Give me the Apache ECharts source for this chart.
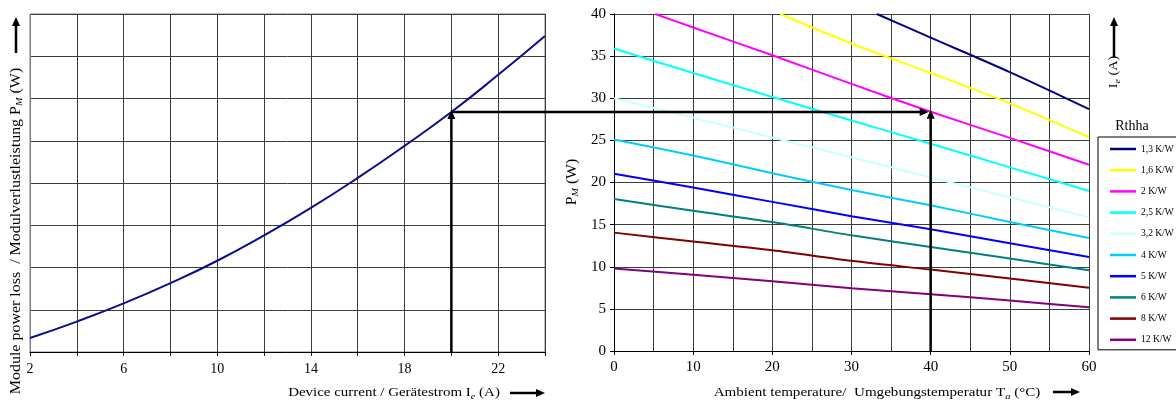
<!DOCTYPE html>
<html><head><meta charset="utf-8">
<script src="https://cdn.jsdelivr.net/npm/echarts@6/dist/echarts.min.js"></script>
<style>html,body{margin:0;padding:0;background:#fff}#c{width:1176px;height:406px}</style>
</head><body><div id="c"></div>
<script>
// ---- data ----
const currentA   = [2, 4, 6, 8, 10, 12, 14, 16, 18, 20, 22, 24];
const powerLossW = [1.66, 3.6, 5.75, 8.15, 10.8, 13.8, 17.05, 20.6, 24.4, 28.4, 32.8, 37.4];
const currentTickLabels = [2, 6, 10, 14, 18, 22];

const tempC = [0, 10, 20, 30, 40, 50, 60];
const rthLabels = ['1,3 K/W', '1,6 K/W', '2 K/W', '2,5 K/W', '3,2 K/W', '4 K/W', '5 K/W', '6 K/W', '8 K/W', '12 K/W'];
const t13 = [33.2, 40, 50, 60];             const p13 = [40, 37.2, 33.1, 28.7];
const t16 = [21, 30, 40, 50, 60];           const p16 = [40, 36.5, 33.0, 29.4, 25.4];
const t20 = [5.2, 10, 20, 30, 40, 50, 60];  const p20 = [40, 38.4, 35.1, 31.7, 28.4, 25.3, 22.1];
const p25  = [35.9, 33.0, 30.15, 27.35, 24.6, 21.8, 19.0];
const p32  = [30.0, 27.7, 25.35, 23.0, 20.6, 18.25, 15.87];
const p40  = [25.1, 23.2, 21.1, 19.1, 17.3, 15.3, 13.4];
const p50  = [21.05, 19.4, 17.7, 16.0, 14.45, 12.8, 11.16];
const p60  = [18.04, 16.65, 15.3, 13.73, 12.35, 10.97, 9.58];
const p80  = [14.05, 13.0, 11.95, 10.7, 9.66, 8.6, 7.5];
const p120 = [9.78, 9.05, 8.27, 7.45, 6.75, 5.98, 5.2];

// operating point example
const opCurrent = 20, opPower = 28.4, opTemp = 40;

// ---- chart ----
const FONT = '"Liberation Serif", "Times New Roman", serif';
const zip = (xs, ys) => xs.map((x, i) => [x, ys[i]]);
const rthData = [zip(t13, p13), zip(t16, p16), zip(t20, p20), zip(tempC, p25), zip(tempC, p32),
                 zip(tempC, p40), zip(tempC, p50), zip(tempC, p60), zip(tempC, p80), zip(tempC, p120)];
const rthColors = ['#000080', '#FFFF00', '#FF00FF', '#00FFFF', '#CCFFFF', '#00CCFF', '#0000FF', '#008080', '#800000', '#800080'];
const GRIDC = '#3c3c3c';

const chart = echarts.init(document.getElementById('c'));
const option = {
  animation: false,
  grid: [
    { left: 30, top: 14, width: 515, height: 338, show: true, borderColor: '#808080', borderWidth: 1 },
    { left: 614, top: 14, width: 475, height: 337 }
  ],
  xAxis: [
    { gridIndex: 0, type: 'value', min: 2, max: 24, interval: 2,
      axisLine: { lineStyle: { color: '#000', width: 1 } },
      axisTick: { show: true, length: 4, lineStyle: { color: '#000' } },
      axisLabel: { customValues: currentTickLabels, fontFamily: FONT, fontSize: 14, color: '#000', margin: 10 },
      splitLine: { show: true, lineStyle: { color: GRIDC, width: 1 } } },
    { gridIndex: 1, type: 'value', min: 0, max: 60, interval: 10,
      axisLine: { lineStyle: { color: '#000', width: 1 } },
      axisTick: { show: true, length: 4, lineStyle: { color: '#000' } },
      minorTick: { show: false, splitNumber: 2 },
      minorSplitLine: { show: true, lineStyle: { color: GRIDC, width: 1 } },
      axisLabel: { fontFamily: FONT, fontSize: 15, color: '#000', margin: 9 },
      splitLine: { show: true, lineStyle: { color: GRIDC, width: 1 } } }
  ],
  yAxis: [
    { gridIndex: 0, type: 'value', min: 0, max: 40, interval: 5,
      axisLine: { show: true, lineStyle: { color: '#808080' } },
      axisTick: { show: false }, axisLabel: { show: false },
      splitLine: { show: true, lineStyle: { color: GRIDC, width: 1 } } },
    { gridIndex: 1, type: 'value', min: 0, max: 40, interval: 5,
      axisLine: { show: true, lineStyle: { color: '#000' } },
      axisTick: { show: true, length: 4, lineStyle: { color: '#000' } },
      axisLabel: { fontFamily: FONT, fontSize: 15, color: '#000', margin: 8 },
      splitLine: { show: true, lineStyle: { color: GRIDC, width: 1 } } }
  ],
  legend: {
    data: rthLabels, orient: 'vertical', left: 1098, top: 137,
    padding: [7, 40, 5, 12], itemGap: 11.2, itemWidth: 26, itemHeight: 2.5, icon: 'rect',
    borderColor: '#000', borderWidth: 1, backgroundColor: '#fff',
    textStyle: { fontFamily: FONT, fontSize: 9.5, color: '#000', lineHeight: 10 }
  },
  series: [
    { type: 'line', name: 'PM', xAxisIndex: 0, yAxisIndex: 0, data: zip(currentA, powerLossW),
      smooth: true, symbol: 'none', lineStyle: { color: '#0c0c8c', width: 2 }, z: 3 }
  ].concat(rthLabels.map((name, i) => ({
      type: 'line', name, xAxisIndex: 1, yAxisIndex: 1, data: rthData[i],
      smooth: 0.3, symbol: 'none', color: rthColors[i], lineStyle: { color: rthColors[i], width: 2 }, z: 3
  })))
};
chart.setOption(option);

// ---- annotations (text + arrows) ----
const HL = 9, HW = 4;
function arrowUp(x, yB, yT, w) {
  return [
    { type: 'line', z: 100, shape: { x1: x, y1: yB, x2: x, y2: yT + HL - 1 }, style: { stroke: '#000', lineWidth: w } },
    { type: 'polygon', z: 100, shape: { points: [[x, yT], [x - HW, yT + HL], [x + HW, yT + HL]] }, style: { fill: '#000' } }
  ];
}
function arrowRight(y, xL, xR, w) {
  return [
    { type: 'line', z: 100, shape: { x1: xL, y1: y, x2: xR - HL + 1, y2: y }, style: { stroke: '#000', lineWidth: w } },
    { type: 'polygon', z: 100, shape: { points: [[xR, y], [xR - HL, y - HW], [xR - HL, y + HW]] }, style: { fill: '#000' } }
  ];
}
function txt(x, y, text, opts) {
  return Object.assign({
    type: 'text', z: 100, x, y,
    style: Object.assign({
      text, fontFamily: FONT, fontSize: 13, fill: '#000', align: 'center', verticalAlign: 'middle', lineHeight: 16,
      rich: { sub: { fontFamily: FONT, fontSize: 9, fontStyle: 'italic', verticalAlign: 'bottom', lineHeight: 10 } }
    }, opts && opts.style)
  }, opts && opts.el);
}

const pL0 = chart.convertToPixel({ gridIndex: 0 }, [opCurrent, 0]);
const pL1 = chart.convertToPixel({ gridIndex: 0 }, [opCurrent, opPower]);
const pR0 = chart.convertToPixel({ gridIndex: 1 }, [opTemp, 0]);
const pR1 = chart.convertToPixel({ gridIndex: 1 }, [opTemp, opPower]);

const graphics = [].concat(
  arrowUp(pL0[0], pL0[1], pL1[1] - 2, 2.5),
  arrowUp(pR0[0], pR0[1], pR1[1] - 2, 2.5),
  arrowRight(pL1[1], pL1[0], pR1[0] - 2, 2.5),
  arrowUp(16, 53, 17, 2.5),
  arrowUp(1114, 57, 17, 2.5),
  arrowRight(393, 510, 545, 2.5),
  arrowRight(392, 1053, 1080, 2.5),
  [
    txt(16, 231, 'Module power loss  / Modulverlustleistung P{sub|M} (W)', { style: { fontSize: 14 }, el: { rotation: Math.PI / 2, scaleX: 1.14 } }),
    txt(572, 182, 'P{sub|M} (W)', { style: { fontSize: 14 }, el: { rotation: Math.PI / 2, scaleX: 1.12 } }),
    txt(1114, 72, 'I{sub|e} (A)', { style: { fontSize: 13 }, el: { rotation: Math.PI / 2, scaleX: 1.1 } }),
    txt(394, 393, 'Device current / Gerätestrom I{sub|e} (A)', { el: { scaleX: 1.15 } }),
    txt(877, 393, 'Ambient temperature/  Umgebungstemperatur T{sub|a} (°C)', { el: { scaleX: 1.16 } }),
    txt(1132, 126, 'Rthha', { style: { fontSize: 14 } })
  ]
);
chart.setOption({ graphic: graphics });
</script>
</body></html>
